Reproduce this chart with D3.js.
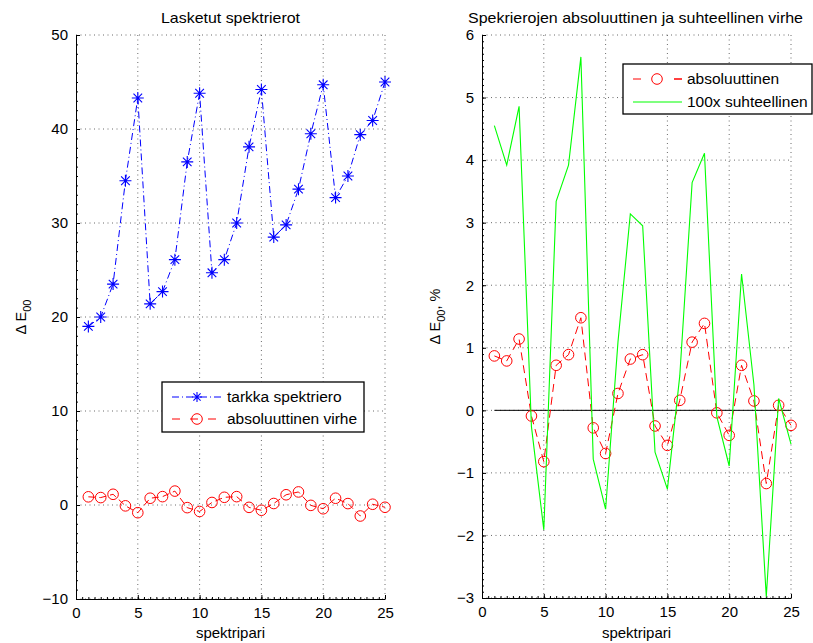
<!DOCTYPE html>
<html>
<head>
<meta charset="utf-8">
<script src="https://cdn.jsdelivr.net/npm/d3@7"></script>
<style>
  body { margin: 0; background: #fff; }
  svg { font-family: "Liberation Sans", Arial, sans-serif; }
</style>
</head>
<body>
<div id="chart"></div>
<script>
//data
var pairs = d3.range(1, 26);
var exactDiff = [19.0, 20.0, 23.5, 34.5, 43.3, 21.4, 22.7, 26.1, 36.5, 43.8,
  24.7, 26.1, 30.0, 38.1, 44.2, 28.5, 29.8, 33.6, 39.5, 44.7,
  32.7, 35.0, 39.4, 40.9, 45.0];
var absError = [0.87, 0.79, 1.14, -0.09, -0.82, 0.72, 0.89, 1.48, -0.28, -0.69,
  0.27, 0.82, 0.89, -0.25, -0.56, 0.16, 1.09, 1.39, -0.04, -0.40,
  0.72, 0.15, -1.17, 0.08, -0.24];
var relError = [4.55, 3.92, 4.86, -0.26, -1.91, 3.34, 3.92, 5.65, -0.78, -1.58,
  1.09, 3.14, 2.95, -0.67, -1.26, 0.55, 3.64, 4.11, -0.10, -0.89,
  2.18, 0.41, -2.98, 0.19, -0.54];
var xTicks = [0, 5, 10, 15, 20, 25];
var leftYTicks = [-10, 0, 10, 20, 30, 40, 50];
var rightYTicks = [-3, -2, -1, 0, 1, 2, 3, 4, 5, 6];

var width = 813, height = 643;
var svg = d3.select("#chart").append("svg")
  .attr("width", width)
  .attr("height", height);

//draw one axes area with grid, ticks, title and labels
function makePanel(opts) {
  var x = d3.scaleLinear().domain([0, 25]).range([opts.left, opts.right]);
  var y = d3.scaleLinear().domain(opts.yDomain).range([opts.bottom, opts.top]);
  var g = svg.append("g");

  //dotted grid
  g.selectAll(".vgrid").data(xTicks.slice(1)).enter().append("line")
    .attr("x1", function(d) { return x(d); })
    .attr("x2", function(d) { return x(d); })
    .attr("y1", opts.top).attr("y2", opts.bottom)
    .attr("stroke", "#444").attr("stroke-width", 0.8)
    .attr("stroke-dasharray", "1,3.5");
  g.selectAll(".hgrid").data(opts.yTicks).enter().append("line")
    .attr("x1", opts.left).attr("x2", opts.right)
    .attr("y1", function(d) { return y(d); })
    .attr("y2", function(d) { return y(d); })
    .attr("stroke", "#444").attr("stroke-width", 0.8)
    .attr("stroke-dasharray", "1,3.5");

  //minor ticks first, then the labelled axes on top
  g.append("g")
    .attr("transform", "translate(0," + opts.bottom + ")")
    .call(d3.axisBottom(x).tickValues(d3.range(0, 25.01, 0.5)).tickSize(-2).tickFormat(""))
    .call(function(a) { a.select(".domain").remove(); a.selectAll("line").attr("stroke", "#000"); });
  g.append("g")
    .attr("transform", "translate(" + opts.left + ",0)")
    .call(d3.axisLeft(y).tickValues(opts.minorY).tickSize(-2).tickFormat(""))
    .call(function(a) { a.select(".domain").remove(); a.selectAll("line").attr("stroke", "#000"); });

  var xAxis = d3.axisBottom(x).tickValues(xTicks).tickSizeInner(-4).tickSizeOuter(0).tickPadding(8);
  var yAxis = d3.axisLeft(y).tickValues(opts.yTicks).tickSizeInner(-4).tickSizeOuter(0).tickPadding(8)
    .tickFormat(function(d) { return d < 0 ? "\u2212" + Math.abs(d) : d; });

  var gx = g.append("g")
    .attr("transform", "translate(0," + opts.bottom + ")")
    .call(xAxis);
  var gy = g.append("g")
    .attr("transform", "translate(" + opts.left + ",0)")
    .call(yAxis);
  [gx, gy].forEach(function(a) {
    a.select(".domain").attr("stroke", "#000").attr("stroke-width", 1);
    a.selectAll(".tick line").attr("stroke", "#000");
    a.selectAll("text").attr("font-size", 15).attr("fill", "#000")
      .attr("font-family", "Liberation Sans, Arial, sans-serif");
  });

  //title
  svg.append("text")
    .attr("x", (opts.left + opts.right) / 2 + opts.titleShift)
    .attr("y", 23)
    .attr("text-anchor", "middle")
    .attr("font-size", 15)
    .attr("textLength", opts.titleWidth)
    .attr("lengthAdjust", "spacingAndGlyphs")
    .text(opts.title);

  //x label
  svg.append("text")
    .attr("x", (opts.left + opts.right) / 2)
    .attr("y", 638)
    .attr("text-anchor", "middle")
    .attr("font-size", 15)
    .text("spektripari");

  //y label with subscript
  var yl = svg.append("text")
    .attr("transform", "translate(" + opts.yLabelX + "," + (opts.top + opts.bottom) / 2 + ") rotate(-90)")
    .attr("text-anchor", "middle")
    .attr("font-size", 14.5);
  yl.append("tspan").text("\u0394 E");
  yl.append("tspan").attr("dy", 5).attr("font-size", 11).text("00");
  if (opts.yLabelSuffix) {
    yl.append("tspan").attr("dy", -5).text(opts.yLabelSuffix);
  }

  return { x: x, y: y, g: g };
}

function asterisk(sel, cx, cy, r, color) {
  var d = "M" + (cx - r) + "," + cy + "H" + (cx + r) +
    "M" + cx + "," + (cy - r) + "V" + (cy + r);
  var k = r * 0.72;
  d += "M" + (cx - k) + "," + (cy - k) + "L" + (cx + k) + "," + (cy + k) +
    "M" + (cx - k) + "," + (cy + k) + "L" + (cx + k) + "," + (cy - k);
  sel.append("path").attr("d", d).attr("stroke", color).attr("stroke-width", 1.1).attr("fill", "none");
}

function legendBox(x0, y0, w, h) {
  svg.append("rect")
    .attr("x", x0).attr("y", y0).attr("width", w).attr("height", h)
    .attr("fill", "#fff").attr("stroke", "#000").attr("stroke-width", 1.3);
}

// ---------- left panel ----------
var left = makePanel({
  left: 76, right: 385, top: 35, bottom: 599,
  yDomain: [-10, 50], yTicks: leftYTicks, minorY: d3.range(-10, 50.01, 1),
  title: "Lasketut spektrierot", titleWidth: 139, titleShift: 0,
  yLabelX: 26
});

var lineL = d3.line()
  .x(function(d, i) { return left.x(pairs[i]); })
  .y(function(d) { return left.y(d); });

left.g.append("path").datum(exactDiff)
  .attr("d", lineL).attr("fill", "none")
  .attr("stroke", "#0000ff").attr("stroke-width", 1)
  .attr("stroke-dasharray", "7,3,1,3");
exactDiff.forEach(function(d, i) {
  asterisk(left.g, left.x(pairs[i]), left.y(d), 6, "#0000ff");
});

left.g.append("path").datum(absError)
  .attr("d", lineL).attr("fill", "none")
  .attr("stroke", "#ff0000").attr("stroke-width", 1)
  .attr("stroke-dasharray", "7,4");
left.g.selectAll(".absL").data(absError).enter().append("circle")
  .attr("cx", function(d, i) { return left.x(pairs[i]); })
  .attr("cy", function(d) { return left.y(d); })
  .attr("r", 5.3).attr("fill", "none")
  .attr("stroke", "#ff0000").attr("stroke-width", 1);

//left legend
legendBox(162, 382, 202, 50);
svg.append("line").attr("x1", 172).attr("x2", 223).attr("y1", 397).attr("y2", 397)
  .attr("stroke", "#0000ff").attr("stroke-dasharray", "7,3,1,3");
asterisk(svg, 197, 397, 5, "#0000ff");
svg.append("text").attr("x", 227).attr("y", 402).attr("font-size", 15.5).text("tarkka spektriero");
svg.append("line").attr("x1", 172).attr("x2", 223).attr("y1", 419).attr("y2", 419)
  .attr("stroke", "#ff0000").attr("stroke-dasharray", "8,10");
svg.append("circle").attr("cx", 197).attr("cy", 419).attr("r", 5.3)
  .attr("fill", "none").attr("stroke", "#ff0000");
svg.append("text").attr("x", 227).attr("y", 424).attr("font-size", 15.5).text("absoluuttinen virhe");

// ---------- right panel ----------
var right = makePanel({
  left: 482, right: 791, top: 35, bottom: 598,
  yDomain: [-3, 6], yTicks: rightYTicks, minorY: d3.range(-30, 61, 1).map(function(v) { return v / 10; }),
  title: "Spekrierojen absoluuttinen ja suhteellinen virhe", titleWidth: 335, titleShift: -1,
  yLabelX: 440,
  yLabelSuffix: ", %"
});

var lineR = d3.line()
  .x(function(d, i) { return right.x(pairs[i]); })
  .y(function(d) { return right.y(d); });

//zero line
right.g.append("line")
  .attr("x1", right.x(1)).attr("x2", right.x(25))
  .attr("y1", right.y(0)).attr("y2", right.y(0))
  .attr("stroke", "#000").attr("stroke-width", 1);

right.g.append("path").datum(absError)
  .attr("d", lineR).attr("fill", "none")
  .attr("stroke", "#ff0000").attr("stroke-width", 1)
  .attr("stroke-dasharray", "8,5");
right.g.selectAll(".absR").data(absError).enter().append("circle")
  .attr("cx", function(d, i) { return right.x(pairs[i]); })
  .attr("cy", function(d) { return right.y(d); })
  .attr("r", 5.3).attr("fill", "none")
  .attr("stroke", "#ff0000").attr("stroke-width", 1);

right.g.append("path").datum(relError)
  .attr("d", lineR).attr("fill", "none")
  .attr("stroke", "#00ff00").attr("stroke-width", 1.1);

//right legend
legendBox(623, 64, 189, 50);
svg.append("line").attr("x1", 633).attr("x2", 682).attr("y1", 79).attr("y2", 79)
  .attr("stroke", "#ff0000").attr("stroke-dasharray", "8,33");
svg.append("line").attr("x1", 674).attr("x2", 682).attr("y1", 79).attr("y2", 79)
  .attr("stroke", "#ff0000");
svg.append("circle").attr("cx", 657).attr("cy", 79).attr("r", 5.3)
  .attr("fill", "none").attr("stroke", "#ff0000");
svg.append("text").attr("x", 687).attr("y", 84).attr("font-size", 15.5).text("absoluuttinen");
svg.append("line").attr("x1", 633).attr("x2", 682).attr("y1", 102).attr("y2", 102)
  .attr("stroke", "#00ff00").attr("stroke-width", 1.2);
svg.append("text").attr("x", 687).attr("y", 107).attr("font-size", 15.5).text("100x suhteellinen");
</script>
</body>
</html>
